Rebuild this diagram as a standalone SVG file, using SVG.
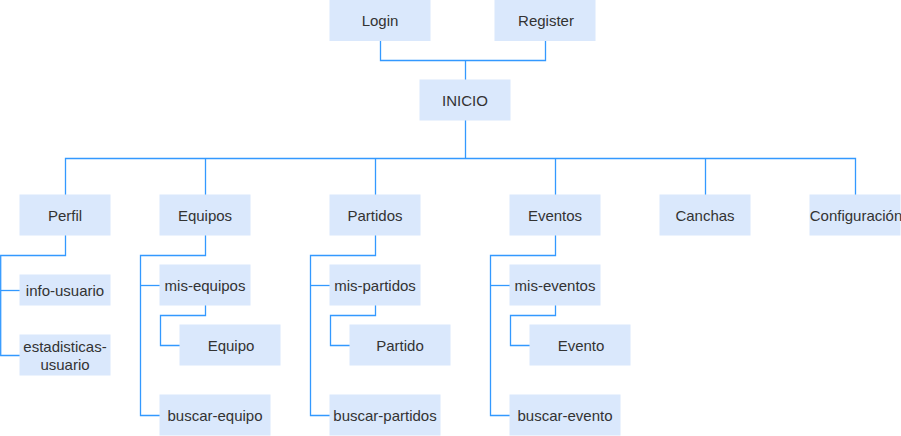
<svg xmlns="http://www.w3.org/2000/svg" width="901" height="436" viewBox="0 0 901 436">
<style>
.n rect{fill:#dae8fc;stroke:#dae8fc;stroke-width:1}
.n text{font-family:"Liberation Sans",Arial,sans-serif;font-size:15px;fill:#333333;text-anchor:middle}
#edges path{fill:none;stroke:#3399ff;stroke-width:1.3}
</style>
<rect width="901" height="436" fill="#ffffff"/>
<g id="edges">
<path d="M380.5 40V60.5H545.5V40"/>
<path d="M465.5 60.5V80"/>
<path d="M465.5 120V158.5"/>
<path d="M65.5 195V158.5H855.5V195"/>
<path d="M205.5 158.5V195"/>
<path d="M375.5 158.5V195"/>
<path d="M555.5 158.5V195"/>
<path d="M705.5 158.5V195"/>
<path d="M65.5 235V255.5H0.7V355.5H20"/>
<path d="M0.7 290.5H20"/>
<path d="M205.5 235V255.5H140.5V415.5H160"/>
<path d="M140.5 285.5H160"/>
<path d="M205.5 305V315.5H160.5V345.5H180"/>
<path d="M375.5 235V255.5H310.5V415.5H330"/>
<path d="M310.5 285.5H330"/>
<path d="M375.5 305V315.5H330.5V345.5H350"/>
<path d="M555.5 235V255.5H490.5V415.5H510"/>
<path d="M490.5 285.5H510"/>
<path d="M555.5 305V315.5H510.5V345.5H530"/>
</g>
<g id="login" class="n"><rect x="330" y="0.5" width="100" height="40"/><text x="380" y="26">Login</text></g>
<g id="register" class="n"><rect x="495" y="0.5" width="100" height="40"/><text x="546" y="26">Register</text></g>
<g id="inicio" class="n"><rect x="420" y="80" width="90" height="40"/><text x="465" y="106">INICIO</text></g>
<g id="perfil" class="n"><rect x="20" y="195" width="90" height="40"/><text x="65" y="221">Perfil</text></g>
<g id="equipos" class="n"><rect x="160" y="195" width="90" height="40"/><text x="205" y="221">Equipos</text></g>
<g id="partidos" class="n"><rect x="330" y="195" width="90" height="40"/><text x="375" y="221">Partidos</text></g>
<g id="eventos" class="n"><rect x="510" y="195" width="90" height="40"/><text x="555" y="221">Eventos</text></g>
<g id="canchas" class="n"><rect x="660" y="195" width="90" height="40"/><text x="705" y="221">Canchas</text></g>
<g id="configuracion" class="n"><rect x="810" y="195" width="90" height="40"/><text x="856" y="221">Configuración</text></g>
<g id="info-usuario" class="n"><rect x="20" y="275" width="90" height="30"/><text x="65" y="296">info-usuario</text></g>
<g id="estadisticas-usuario" class="n"><rect x="20" y="335" width="90" height="40"/><text x="65" y="352">estadisticas-</text><text x="65" y="369.5">usuario</text></g>
<g id="mis-equipos" class="n"><rect x="160" y="265" width="90" height="40"/><text x="205" y="291">mis-equipos</text></g>
<g id="equipo" class="n"><rect x="180" y="325" width="100" height="40"/><text x="231" y="351">Equipo</text></g>
<g id="buscar-equipo" class="n"><rect x="160" y="395" width="110" height="40"/><text x="215" y="421">buscar-equipo</text></g>
<g id="mis-partidos" class="n"><rect x="330" y="265" width="90" height="40"/><text x="375" y="291">mis-partidos</text></g>
<g id="partido" class="n"><rect x="350" y="325" width="100" height="40"/><text x="400" y="351">Partido</text></g>
<g id="buscar-partidos" class="n"><rect x="330" y="395" width="110" height="40"/><text x="385" y="421">buscar-partidos</text></g>
<g id="mis-eventos" class="n"><rect x="510" y="265" width="90" height="40"/><text x="555" y="291">mis-eventos</text></g>
<g id="evento" class="n"><rect x="530" y="325" width="100" height="40"/><text x="581" y="351">Evento</text></g>
<g id="buscar-evento" class="n"><rect x="510" y="395" width="110" height="40"/><text x="565" y="421">buscar-evento</text></g>
</svg>
